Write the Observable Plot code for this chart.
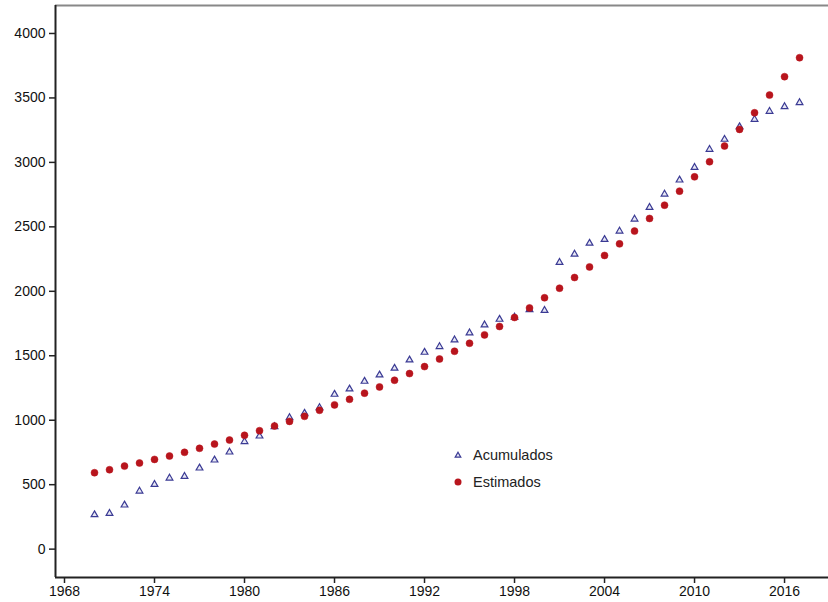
<!DOCTYPE html>
<html>
<head>
<meta charset="utf-8">
<script src="https://cdn.jsdelivr.net/npm/d3@7"></script>
<script src="https://cdn.jsdelivr.net/npm/@observablehq/plot@0.6"></script>
<style>
  html, body { margin: 0; padding: 0; background: #fff; }
  #wrap { position: relative; width: 828px; height: 602px; font-family: "Liberation Sans", Arial, sans-serif; }
  #legend { position: absolute; left: 450px; top: 441px; font-size: 14.5px; color: #222; }
  #legend .row { display: flex; align-items: center; height: 27px; }
  #legend svg { width: 16px; height: 14px; margin-right: 7px; }
</style>
</head>
<body>
<div id="wrap">
  <div id="chart"></div>
  <div id="legend"></div>
</div>
<script>
const years = d3.range(1970, 2018);
const acumulados = [267, 277, 342, 450, 502, 551, 564, 629, 691, 753, 834, 877, 950, 1020, 1054, 1098, 1201, 1242, 1302, 1351, 1403, 1467, 1527, 1571, 1623, 1677, 1739, 1783, 1800, 1858, 1852, 2224, 2288, 2373, 2402, 2467, 2560, 2651, 2754, 2863, 2961, 3101, 3179, 3276, 3334, 3396, 3432, 3463];
const estimados = [593, 616, 644, 668, 696, 722, 751, 782, 815, 846, 883, 919, 955, 991, 1030, 1077, 1119, 1162, 1210, 1258, 1310, 1362, 1416, 1475, 1535, 1597, 1662, 1727, 1797, 1871, 1950, 2024, 2107, 2189, 2278, 2368, 2467, 2565, 2668, 2777, 2888, 3005, 3127, 3256, 3385, 3522, 3665, 3812];
const seriesNames = ["Acumulados", "Estimados"];
const xTicks = [1968, 1974, 1980, 1986, 1992, 1998, 2004, 2010, 2016];
const yTicks = [0, 500, 1000, 1500, 2000, 2500, 3000, 3500, 4000];
const xDomain = [1967.4, 2018.93];
const yDomain = [-220, 4217];

const acumData = years.map((y, i) => ({year: y, value: acumulados[i]}));
const estData = years.map((y, i) => ({year: y, value: estimados[i]}));

const RED = "#b8151d";
const BLUE = "#3a3a94";

const chart = Plot.plot({
  width: 828,
  height: 602,
  marginLeft: 55,
  marginRight: 0,
  marginTop: 5,
  marginBottom: 25,
  style: {fontFamily: "'Liberation Sans', Arial, sans-serif", fontSize: "14px", color: "#111", background: "#fff"},
  x: {domain: xDomain, label: null},
  y: {domain: yDomain, label: null},
  marks: [
    Plot.ruleY([yDomain[1]], {stroke: "#888", strokeWidth: 2}),
    Plot.ruleX([xDomain[0]], {stroke: "#222", strokeWidth: 2}),
    Plot.ruleY([yDomain[0]], {stroke: "#222", strokeWidth: 2}),
    Plot.axisX({ticks: xTicks, tickFormat: d => String(d), tickSize: 6, tickPadding: 3, stroke: "#222", strokeWidth: 1.5}),
    Plot.axisY({ticks: yTicks, tickFormat: d => String(d), tickSize: 6, tickPadding: 4, stroke: "#222", strokeWidth: 1.5}),
    Plot.dot(acumData, {x: "year", y: "value", symbol: "triangle", r: 2.5, fill: "#e8e8f4", stroke: BLUE, strokeWidth: 1.2}),
    Plot.dot(estData, {x: "year", y: "value", r: 3.5, fill: RED, stroke: RED, strokeWidth: 0.5})
  ]
});
document.getElementById("chart").appendChild(chart);

const legend = document.getElementById("legend");
const symbols = {
  Acumulados: `<svg viewBox="-8 -7 16 14"><path d="M0,-2.8L2.8,2.1L-2.8,2.1Z" fill="#e8e8f4" stroke="${BLUE}" stroke-width="1.2"/></svg>`,
  Estimados: `<svg viewBox="-8 -7 16 14"><circle r="3.5" fill="${RED}"/></svg>`
};
seriesNames.forEach(name => {
  const row = document.createElement("div");
  row.className = "row";
  row.innerHTML = symbols[name] + `<span>${name}</span>`;
  legend.appendChild(row);
});
</script>
</body>
</html>
